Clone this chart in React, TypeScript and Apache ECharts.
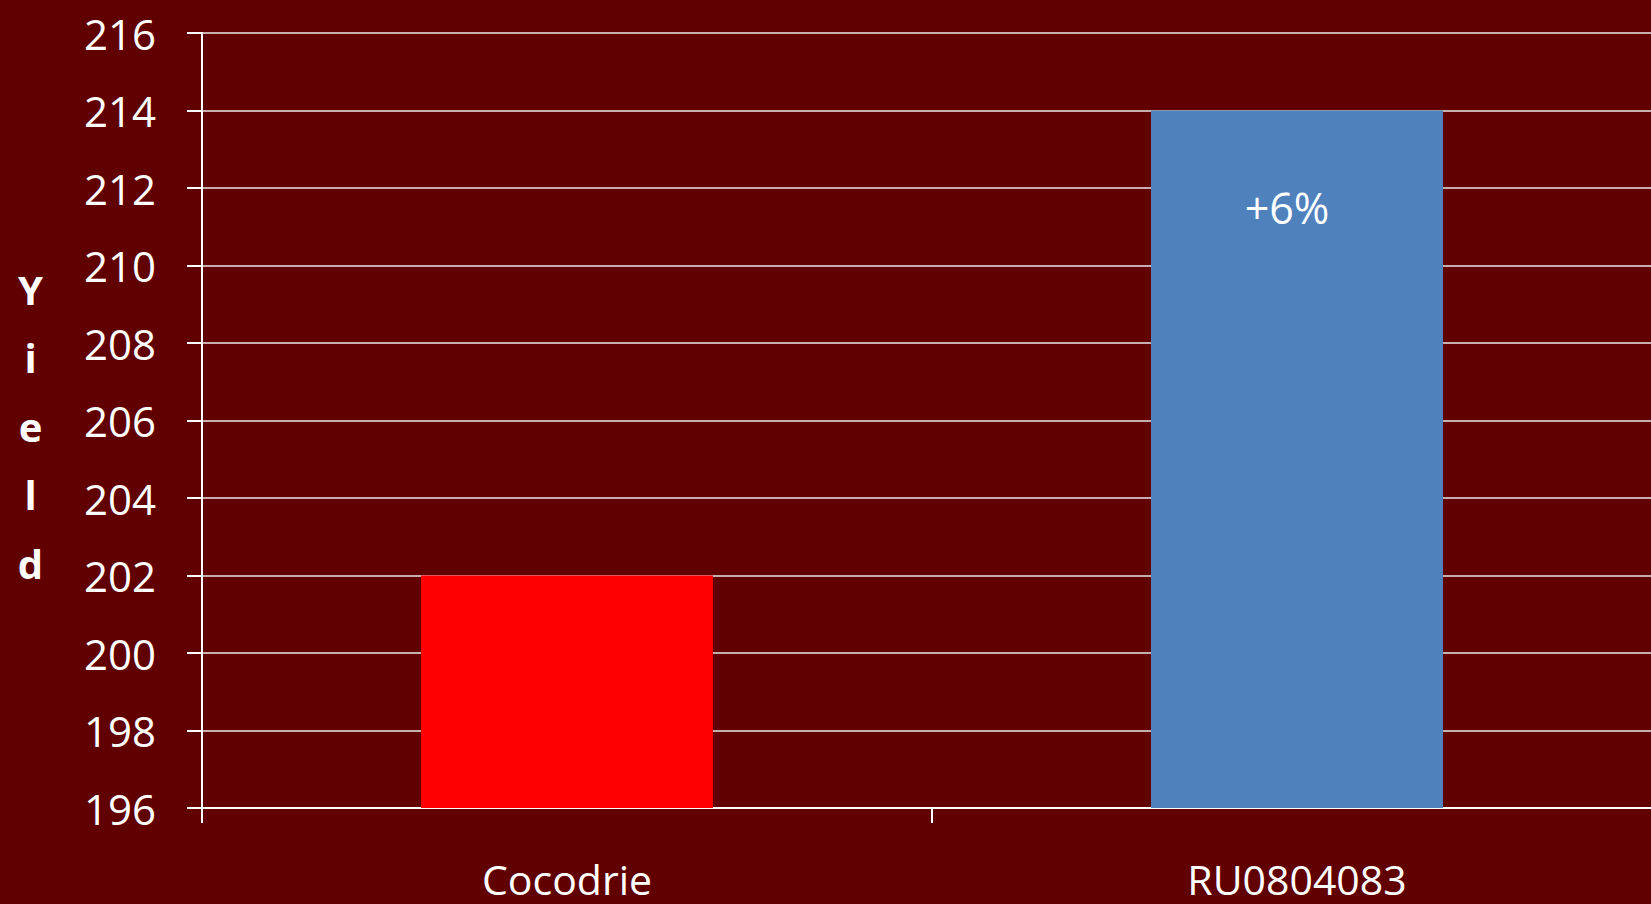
import React, { useEffect, useRef } from "react";
import * as echarts from "echarts";

const categories = ["Cocodrie", "RU0804083"];
const yieldValues = [202, 214];
const barLabels = ["", "+6%"];
const barColors = ["#FF0000", "#4F81BD"];
const yAxisTitle = "Yield";

const FONT = "'Open Sans', 'Noto Sans', sans-serif";

export default function App() {
  const ref = useRef<HTMLDivElement>(null);
  useEffect(() => {
    if (!ref.current) return;
    const chart = echarts.init(ref.current, undefined, { renderer: "svg" });
    chart.setOption({
      animation: false,
      backgroundColor: "#600000",
      textStyle: { fontFamily: FONT },
      grid: {
        left: 202,
        width: 1460,
        top: 33,
        bottom: 96,
        containLabel: false,
        outerBoundsMode: "none",
      },
      graphic: [
        {
          type: "text",
          style: {
            text: yAxisTitle.split("").join("\n"),
            x: 30.5,
            y: 426,
            align: "center",
            verticalAlign: "middle",
            lineHeight: 68.5,
            fill: "#FFFFFF",
            fontSize: 40,
            fontWeight: "bold",
            fontFamily: FONT,
          },
        },
      ],
      xAxis: {
        type: "category",
        data: categories,
        axisLine: { show: true, lineStyle: { color: "#FFFFFF", width: 2 } },
        axisTick: { show: true, length: 15, lineStyle: { color: "#FFFFFF", width: 2 } },
        axisLabel: {
          color: "#FFFFFF",
          fontSize: 41,
          lineHeight: 34,
          fontFamily: FONT,
          margin: 54,
        },
        splitLine: { show: false },
      },
      yAxis: {
        type: "value",
        min: 196,
        max: 216,
        interval: 2,
        axisLine: { show: true, lineStyle: { color: "#FFFFFF", width: 2 } },
        axisTick: { show: true, length: 15, lineStyle: { color: "#FFFFFF", width: 2 } },
        axisLabel: { color: "#FFFFFF", fontSize: 42, fontFamily: FONT, margin: 46 },
        splitLine: { show: true, lineStyle: { color: "#E8E8E8", width: 1.5 } },
      },
      series: [
        {
          type: "bar",
          barWidth: "40%",
          data: yieldValues.map((v, i) => ({
            value: v,
            itemStyle: { color: barColors[i] },
            label: {
              show: barLabels[i] !== "",
              formatter: barLabels[i],
              position: "insideTop",
              distance: 75,
              offset: [-10, 0],
              color: "#FFFFFF",
              fontSize: 43,
              fontFamily: FONT,
            },
          })),
        },
      ],
    });
    return () => chart.dispose();
  }, []);
  return (
    <div
      ref={ref}
      style={{ position: "absolute", left: 0, top: 0, width: 1651, height: 904 }}
    />
  );
}
